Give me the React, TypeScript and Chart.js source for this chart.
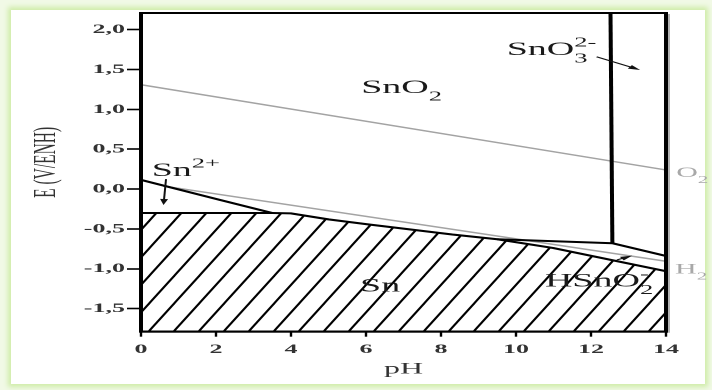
import React, { useEffect, useRef } from 'react';
import { Chart, registerables } from 'chart.js';

Chart.register(...registerables);

// ---- axes ----
const phTicks = [0, 2, 4, 6, 8, 10, 12, 14];
const eTicks = [-1.5, -1.0, -0.5, 0, 0.5, 1.0, 1.5, 2.0];
const PH_MIN = 0;
const PH_MAX = 14;
const E_MIN = -1.79;
const E_MAX = 2.21;

// ---- domain boundaries (pH, E in V/ENH) ----
// Sn (immunity) region upper boundary
const snPH = [0, 3.5, 4, 5, 6, 8.3, 9.5, 11, 12.6, 14];
const snE = [-0.30, -0.30, -0.305, -0.38, -0.44, -0.57, -0.63, -0.74, -0.895, -1.03];
// Sn2+ / SnO2
const sn2PH = [0, 2.1, 3.5];
const sn2E = [0.115, -0.135, -0.30];
// SnO2 / HSnO2-
const hsnPH = [9.5, 12.57, 14];
const hsnE = [-0.63, -0.68, -0.84];
// SnO2 / SnO3 2-
const sno3PH = [12.52, 12.57];
const sno3E = [2.21, -0.68];
// water stability lines
const o2PH = [0, 14];
const o2E = [1.31, 0.24];
const h2PH = [0.6, 14];
const h2E = [0.038, -0.906];

// ---- labels ----
const speciesLabels = ['SnO_2', 'Sn^{2+}', 'SnO_3^{2-}', 'Sn', 'HSnO_2^-'];
const speciesPH = [5.87, 0.285, 9.75, 5.84, 10.77];
const speciesE = [1.206, 0.165, 1.683, -1.287, -1.224];
const waterLabels = ['O_2', 'H_2'];
const waterPH = [14.27, 14.24];
const waterE = [0.15, -1.06];

// ---- arrows ----
const arrowFromPH = [0.667, 12.15, 12.69];
const arrowFromE = [0.125, 1.66, -0.89];
const arrowToPH = [0.6, 13.31, 13.1];
const arrowToE = [-0.2, 1.495, -0.835];

const FONT = "'Liberation Serif', 'Times New Roman', serif";

const pts = (xs: number[], ys: number[]) => xs.map((x, i) => ({ x, y: ys[i] }));

type Part = { t: string; k: 'n' | 'sub' | 'sup' };
function parseChem(s: string): Part[] {
  const parts: Part[] = [];
  let i = 0;
  let buf = '';
  while (i < s.length) {
    const c = s[i];
    if (c === '_' || c === '^') {
      if (buf) { parts.push({ t: buf, k: 'n' }); buf = ''; }
      let t: string;
      if (s[i + 1] === '{') {
        const j = s.indexOf('}', i + 2);
        t = s.slice(i + 2, j);
        i = j + 1;
      } else {
        t = s[i + 1];
        i += 2;
      }
      parts.push({ t, k: c === '_' ? 'sub' : 'sup' });
    } else {
      buf += c;
      i++;
    }
  }
  if (buf) parts.push({ t: buf, k: 'n' });
  return parts;
}

function drawChem(ctx: CanvasRenderingContext2D, s: string, x: number, y: number, size: number, color: string) {
  const parts = parseChem(s);
  const small = size * 0.7;
  ctx.fillStyle = color;
  ctx.textAlign = 'left';
  ctx.textBaseline = 'alphabetic';
  let cx = x;
  let subStart: number | null = null;
  for (const p of parts) {
    if (p.k === 'n') {
      ctx.font = `${size}px ${FONT}`;
      ctx.fillText(p.t, cx, y);
      cx += ctx.measureText(p.t).width;
      subStart = null;
    } else if (p.k === 'sub') {
      ctx.font = `${small}px ${FONT}`;
      ctx.fillText(p.t, cx, y + size * 0.4);
      subStart = cx;
      cx += ctx.measureText(p.t).width;
    } else {
      ctx.font = `${small}px ${FONT}`;
      const sx = subStart !== null ? subStart : cx;
      ctx.fillText(p.t, sx, y - size * 0.45);
      cx = Math.max(cx, sx + ctx.measureText(p.t).width);
    }
  }
}

function drawArrow(ctx: CanvasRenderingContext2D, x0: number, y0: number, x1: number, y1: number) {
  const ang = Math.atan2(y1 - y0, x1 - x0);
  const len = 6;
  const hw = 2;
  ctx.strokeStyle = '#111';
  ctx.fillStyle = '#111';
  ctx.lineWidth = 1;
  ctx.beginPath();
  ctx.moveTo(x0, y0);
  ctx.lineTo(x1 - Math.cos(ang) * len * 0.8, y1 - Math.sin(ang) * len * 0.8);
  ctx.stroke();
  ctx.beginPath();
  ctx.moveTo(x1, y1);
  ctx.lineTo(x1 - Math.cos(ang) * len - Math.sin(ang) * hw, y1 - Math.sin(ang) * len + Math.cos(ang) * hw);
  ctx.lineTo(x1 - Math.cos(ang) * len + Math.sin(ang) * hw, y1 - Math.sin(ang) * len - Math.cos(ang) * hw);
  ctx.closePath();
  ctx.fill();
}

const overlayPlugin = {
  id: 'overlay',
  afterDatasetsDraw(chart: any) {
    const { ctx, chartArea: a, scales } = chart;
    const x = scales.x;
    const y = scales.y;
    ctx.save();
    // frame
    ctx.strokeStyle = '#000';
    ctx.lineWidth = 2;
    ctx.strokeRect(a.left, a.top, a.right - a.left, a.bottom - a.top);
    ctx.strokeStyle = 'rgba(0,0,0,0.3)';
    ctx.lineWidth = 1;
    ctx.beginPath();
    ctx.moveTo(a.right + 1.5, a.top + 1);
    ctx.lineTo(a.right + 1.5, a.bottom + 1);
    ctx.stroke();
    // species labels
    speciesLabels.forEach((s, i) => {
      drawChem(ctx, s, x.getPixelForValue(speciesPH[i]), y.getPixelForValue(speciesE[i]), 19, '#1a1a1a');
    });
    waterLabels.forEach((s, i) => {
      drawChem(ctx, s, x.getPixelForValue(waterPH[i]), y.getPixelForValue(waterE[i]), 15, '#a8a8a8');
    });
    // arrows
    arrowFromPH.forEach((p, i) => {
      drawArrow(
        ctx,
        x.getPixelForValue(p),
        y.getPixelForValue(arrowFromE[i]),
        x.getPixelForValue(arrowToPH[i]),
        y.getPixelForValue(arrowToE[i])
      );
    });
    // y axis title
    ctx.translate(a.left - 47, (a.top + a.bottom) / 2 - 10);
    ctx.rotate(-Math.PI / 2);
    ctx.font = `15.5px ${FONT}`;
    ctx.fillStyle = '#333';
    ctx.textAlign = 'center';
    ctx.textBaseline = 'middle';
    ctx.fillText('E (V/ENH)', 0, 0);
    ctx.restore();
  },
};

function makeHatch(): CanvasPattern | string {
  const W = 25;
  const H = 55;
  const c = document.createElement('canvas');
  c.width = W;
  c.height = H;
  const g = c.getContext('2d');
  if (!g) return 'rgba(0,0,0,0)';
  g.strokeStyle = '#000';
  g.lineWidth = 2.6;
  for (let k = -1; k <= 1; k++) {
    g.beginPath();
    g.moveTo(-2, H + k * H + (2 * H) / W);
    g.lineTo(W + 2, k * H - (2 * H) / W);
    g.stroke();
  }
  const pat = g.createPattern(c, 'repeat');
  if (!pat) return 'rgba(0,0,0,0)';
  if (typeof DOMMatrix !== 'undefined') pat.setTransform(new DOMMatrix([0.5, 0, 0, 0.5, 0, 0]));
  return pat;
}

export default function App() {
  const ref = useRef<HTMLCanvasElement | null>(null);

  useEffect(() => {
    const canvas = ref.current;
    if (!canvas) return;
    const hatch = makeHatch();
    const black = { borderColor: '#000', borderWidth: 2, pointRadius: 0, fill: false, tension: 0 };
    const gray = { borderColor: '#a3a3a3', borderWidth: 1.4, pointRadius: 0, fill: false, tension: 0 };
    const chart = new Chart(canvas, {
      type: 'line',
      data: {
        datasets: [
          { ...black, data: pts(snPH, snE), fill: 'start', backgroundColor: hatch as any },
          { ...black, data: pts(sn2PH, sn2E) },
          { ...black, data: pts(hsnPH, hsnE) },
          { ...black, data: pts(sno3PH, sno3E) },
          { ...gray, data: pts(o2PH, o2E) },
          { ...gray, data: pts(h2PH, h2E) },
        ],
      },
      options: {
        responsive: false,
        devicePixelRatio: 2,
        animation: false,
        events: [],
        layout: { padding: { left: 0, top: 13, right: 23, bottom: 0 } },
        plugins: { legend: { display: false }, tooltip: { enabled: false } },
        scales: {
          x: {
            type: 'linear',
            min: PH_MIN,
            max: PH_MAX,
            afterBuildTicks: (s: any) => { s.ticks = phTicks.map((v) => ({ value: v })); },
            afterFit: (s: any) => { s.height = 58.3; },
            ticks: {
              padding: 5,
              color: '#333',
              font: { family: FONT, size: 13, weight: 'bold' },
              callback: (v: any) => String(v),
              maxRotation: 0,
            },
            grid: { display: true, drawOnChartArea: false, drawTicks: true, tickLength: 5, tickWidth: 1.2, tickColor: '#000' },
            border: { display: true, color: '#000', width: 2 },
            title: {
              display: true,
              text: 'pH',
              color: '#333',
              font: { family: FONT, size: 16 },
              padding: { top: 0, bottom: 11 },
            },
          },
          y: {
            type: 'linear',
            min: E_MIN,
            max: E_MAX,
            afterBuildTicks: (s: any) => { s.ticks = eTicks.map((v) => ({ value: v })); },
            afterFit: (s: any) => { s.width = 70.5; },
            ticks: {
              padding: 1,
              color: '#333',
              font: { family: FONT, size: 13, weight: 'bold' },
              callback: (v: any) => Number(v).toFixed(1).replace('.', ','),
            },
            grid: { display: true, drawOnChartArea: false, drawTicks: true, tickLength: 7, tickWidth: 1.6, tickColor: '#000' },
            border: { display: true, color: '#000', width: 2 },
          },
        },
      },
      plugins: [overlayPlugin],
    } as any);
    return () => chart.destroy();
  }, []);

  return (
    <div
      style={{
        position: 'fixed',
        left: 0,
        top: 0,
        width: 712,
        height: 390,
        background: '#f1f9e6',
        overflow: 'hidden',
      }}
    >
      <div
        style={{
          position: 'absolute',
          left: 11,
          top: 10,
          width: 694,
          height: 374,
          background: '#ffffff',
          boxShadow: '0 0 5px 3px #cfeca8',
        }}
      />
      <canvas
        ref={ref}
        width={356}
        height={390}
        style={{
          position: 'absolute',
          left: 0,
          top: 0,
          width: 356,
          height: 390,
          transform: 'scaleX(2)',
          transformOrigin: '0 0',
        }}
      />
    </div>
  );
}
